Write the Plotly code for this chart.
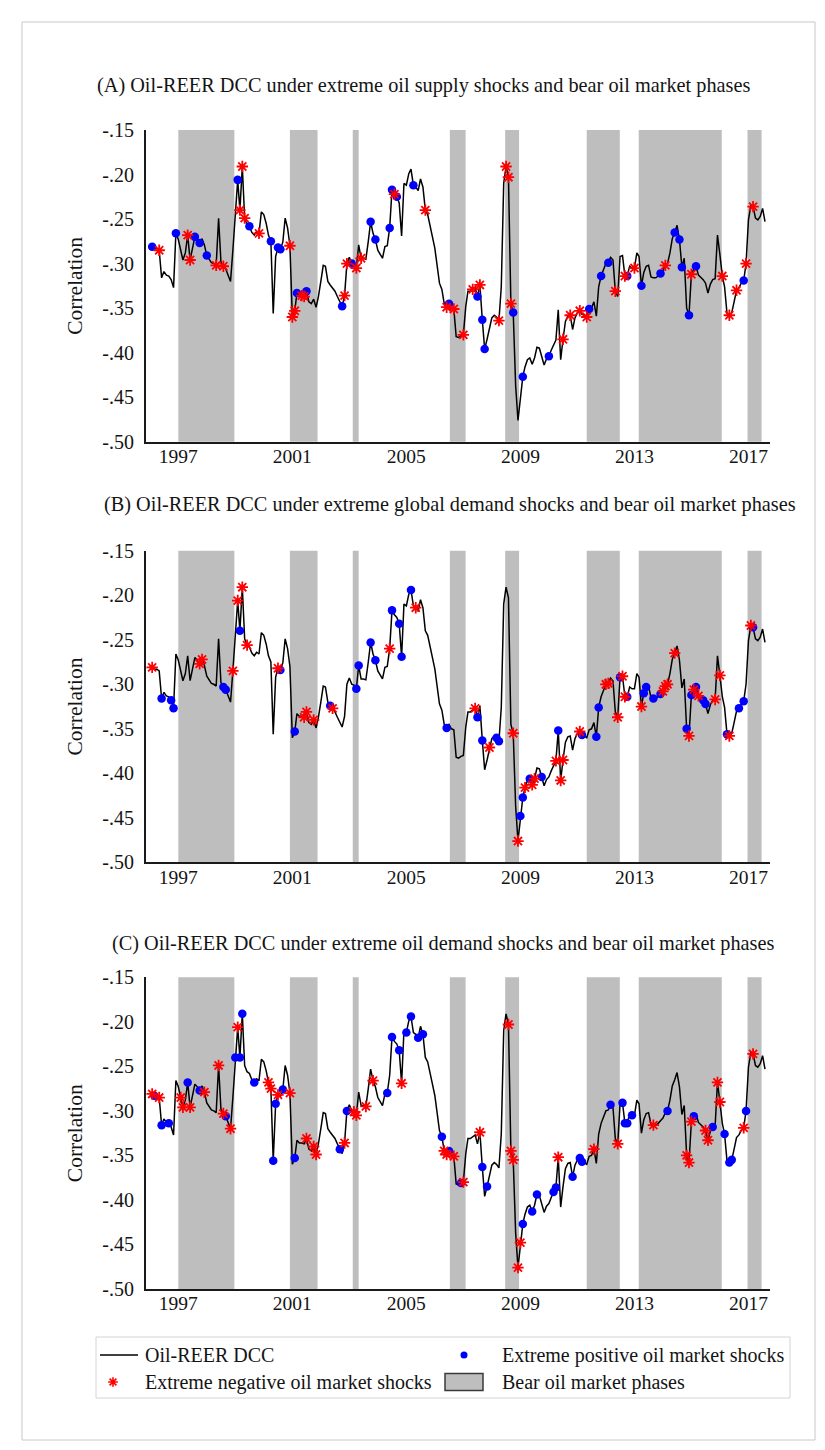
import pandas as pd
import plotly.graph_objects as go

W, H = 825, 1450
FONT = "Liberation Serif"
INK = "#141414"

# Monthly Oil-REER dynamic conditional correlation, 1996m1 onwards
dcc = [
    -0.280, -0.281, -0.283, -0.283, -0.285, -0.316, -0.309, -0.313, -0.314, -0.318, -0.327, -0.266,  # 1996
    -0.273, -0.285, -0.296, -0.288, -0.268, -0.296, -0.281, -0.270, -0.273, -0.277, -0.272, -0.279,  # 1997
    -0.291, -0.296, -0.299, -0.300, -0.302, -0.249, -0.298, -0.303, -0.306, -0.313, -0.320, -0.285,  # 1998
    -0.240, -0.206, -0.240, -0.191, -0.249, -0.256, -0.258, -0.265, -0.268, -0.264, -0.266, -0.242,  # 1999
    -0.245, -0.255, -0.268, -0.275, -0.356, -0.292, -0.282, -0.284, -0.276, -0.249, -0.260, -0.280,  # 2000
    -0.360, -0.353, -0.333, -0.336, -0.336, -0.337, -0.331, -0.343, -0.345, -0.340, -0.349, -0.337,  # 2001
    -0.320, -0.302, -0.303, -0.320, -0.324, -0.327, -0.331, -0.337, -0.343, -0.348, -0.336, -0.300,  # 2002
    -0.293, -0.300, -0.301, -0.305, -0.279, -0.294, -0.294, -0.295, -0.275, -0.253, -0.266, -0.273,  # 2003
    -0.285, -0.290, -0.294, -0.281, -0.280, -0.260, -0.217, -0.222, -0.225, -0.232, -0.269, -0.210,  # 2004
    -0.212, -0.199, -0.194, -0.212, -0.214, -0.218, -0.205, -0.214, -0.240, -0.245, -0.260, -0.270,  # 2005
    -0.283, -0.303, -0.322, -0.329, -0.345, -0.349, -0.345, -0.350, -0.351, -0.382, -0.383, -0.381,  # 2006
    -0.380, -0.348, -0.331, -0.331, -0.329, -0.327, -0.337, -0.324, -0.363, -0.396, -0.385, -0.371,  # 2007
    -0.361, -0.358, -0.360, -0.364, -0.326, -0.210, -0.191, -0.203, -0.345, -0.355, -0.437, -0.476,  # 2008
    -0.448, -0.427, -0.416, -0.408, -0.406, -0.413, -0.406, -0.394, -0.395, -0.404, -0.414, -0.407,  # 2009
    -0.404, -0.397, -0.391, -0.386, -0.352, -0.408, -0.385, -0.365, -0.359, -0.358, -0.374, -0.361,  # 2010
    -0.355, -0.353, -0.357, -0.358, -0.360, -0.351, -0.350, -0.343, -0.359, -0.326, -0.314, -0.307,  # 2011
    -0.300, -0.299, -0.293, -0.296, -0.331, -0.337, -0.292, -0.291, -0.314, -0.314, -0.303, -0.305,  # 2012
    -0.305, -0.288, -0.292, -0.325, -0.310, -0.303, -0.302, -0.315, -0.316, -0.316, -0.314, -0.311,  # 2013
    -0.308, -0.302, -0.300, -0.288, -0.272, -0.265, -0.257, -0.273, -0.304, -0.294, -0.350, -0.358,  # 2014
    -0.312, -0.306, -0.303, -0.313, -0.315, -0.318, -0.322, -0.333, -0.323, -0.318, -0.317, -0.268,  # 2015
    -0.290, -0.314, -0.326, -0.356, -0.358, -0.355, -0.343, -0.330, -0.327, -0.322, -0.319, -0.300,  # 2016
    -0.251, -0.234, -0.236, -0.249, -0.251, -0.247, -0.238, -0.253,                                  # 2017
]

# Bear oil market phases
bear_start = ["1997-01-01", "2000-12-01", "2003-02-14", "2006-07-12",
              "2008-06-20", "2011-05-01", "2013-02-25", "2016-12-20"]
bear_end = ["1998-12-20", "2001-11-20", "2003-05-01", "2007-01-30",
            "2008-12-15", "2012-06-28", "2016-01-25", "2017-06-18"]

# Months with extreme positive / negative shocks, by shock type
supply_pos = ["1996-02", "1996-12", "1997-08", "1997-10", "1998-01", "1999-02", "1999-07",
              "2000-04", "2000-07", "2000-08", "2001-03", "2001-07", "2002-10", "2003-02",
              "2003-10", "2003-12", "2004-06", "2004-07", "2004-09", "2005-04", "2006-07",
              "2007-07", "2007-09", "2007-10", "2008-10", "2009-02", "2010-01", "2011-06",
              "2011-11", "2012-02", "2012-10", "2013-04", "2013-12", "2014-06", "2014-08",
              "2014-09", "2014-12", "2015-03", "2016-11"]
supply_neg = ["1996-05", "1997-05", "1997-06", "1998-05", "1998-08", "1999-03", "1999-04",
              "1999-05", "1999-11", "2000-12", "2001-01", "2001-02", "2001-05", "2001-06",
              "2002-11", "2002-12", "2003-04", "2003-06", "2004-08", "2005-09", "2006-06",
              "2006-09", "2007-01", "2007-05", "2007-08", "2008-04", "2008-07", "2008-08",
              "2008-09", "2010-07", "2010-10", "2011-02", "2011-05", "2012-05", "2012-09",
              "2013-01", "2014-02", "2015-01", "2016-02", "2016-05", "2016-08", "2016-12",
              "2017-03"]

global_pos = ["1996-06", "1996-10", "1996-11", "1998-08", "1998-09", "1999-03", "2000-08",
              "2001-02", "2002-05", "2003-04", "2003-05", "2003-10", "2003-12", "2004-07",
              "2004-10", "2004-11", "2005-03", "2006-06", "2007-07", "2007-09", "2008-03",
              "2008-04", "2009-01", "2009-02", "2009-05", "2009-10", "2010-05", "2011-03",
              "2011-09", "2011-10", "2012-07", "2012-10", "2013-05", "2013-06", "2013-09",
              "2013-12", "2014-11", "2015-01", "2015-03", "2015-06", "2015-07", "2016-04",
              "2016-09", "2016-11", "2017-03"]
global_neg = ["1996-02", "1997-10", "1997-11", "1998-12", "1999-02", "1999-04", "1999-06",
              "2000-07", "2001-06", "2001-07", "2001-10", "2002-06", "2004-06", "2005-05",
              "2007-06", "2007-12", "2008-10", "2008-12", "2009-03", "2009-06", "2009-07",
              "2010-04", "2010-06", "2010-07", "2011-02", "2012-01", "2012-02", "2012-06",
              "2012-08", "2012-09", "2013-04", "2014-01", "2014-02", "2014-03", "2014-06",
              "2014-12", "2015-02", "2015-04", "2015-11", "2016-01", "2016-05", "2017-02"]

oildem_pos = ["1996-03", "1996-06", "1996-09", "1997-05", "1997-10", "1998-09", "1999-01",
              "1999-03", "1999-04", "1999-09", "2000-05", "2000-06", "2000-09", "2001-02",
              "2002-09", "2002-12", "2004-05", "2004-07", "2004-10", "2005-01", "2005-03",
              "2005-06", "2005-08", "2006-04", "2006-07", "2006-12", "2007-09", "2007-11",
              "2009-02", "2009-06", "2009-08", "2010-03", "2010-04", "2010-11", "2011-02",
              "2011-03", "2012-03", "2012-08", "2012-09", "2012-10", "2012-12", "2014-03",
              "2015-02", "2015-10", "2016-03", "2016-05", "2016-06", "2016-12"]
oildem_neg = ["1996-02", "1996-05", "1997-02", "1997-03", "1997-06", "1997-12", "1998-06",
              "1998-08", "1998-11", "1999-02", "2000-03", "2000-04", "2000-07", "2000-12",
              "2001-07", "2001-10", "2001-11", "2002-11", "2003-03", "2003-04", "2003-08",
              "2003-11", "2004-11", "2006-05", "2006-06", "2006-09", "2007-01", "2007-08",
              "2008-08", "2008-09", "2008-10", "2008-12", "2009-01", "2010-05", "2011-08",
              "2012-06", "2013-09", "2014-11", "2014-12", "2015-01", "2015-07", "2015-08",
              "2015-12", "2016-01", "2016-11", "2017-03"]

panel_titles = [
    "(A) Oil-REER DCC under extreme oil supply shocks and bear oil market phases",
    "(B) Oil-REER DCC under extreme global demand shocks and bear oil market phases",
    "(C) Oil-REER DCC under extreme oil demand shocks and bear oil market phases",
]
panel_shocks = [(supply_pos, supply_neg), (global_pos, global_neg), (oildem_pos, oildem_neg)]

y_ticks = [-0.50, -0.45, -0.40, -0.35, -0.30, -0.25, -0.20, -0.15]
y_tick_text = ["-.50", "-.45", "-.40", "-.35", "-.30", "-.25", "-.20", "-.15"]
x_tick_years = ["1997", "2001", "2005", "2009", "2013", "2017"]

legend_labels = ["Oil-REER DCC", "Extreme positive oil market shocks",
                 "Extreme negative oil market shocks", "Bear oil market phases"]

# ---------------------------------------------------------------- layout geometry (pixels)
PLOT_LEFT, PLOT_RIGHT = 146, 770
PANEL_TOPS = [130, 550.7, 977.3]
PANEL_H = 311.7
TITLE_POS = [(95, 85), (102, 505), (110, 943)]

LINE_C = "black"
POS_C = "#0000FF"
NEG_C = "#FF0000"
BEAR_C = "#BEBEBE"

months = pd.date_range("1996-01-01", periods=len(dcc), freq="MS")
series = pd.Series(dcc, index=months)


def px(x):
    return x / W


def py(y):
    return 1 - y / H


fig = go.Figure()
layout = dict(
    width=W, height=H, autosize=False,
    margin=dict(l=0, r=0, t=0, b=0, pad=0, autoexpand=False),
    paper_bgcolor="white", plot_bgcolor="rgba(0,0,0,0)",
    showlegend=False,
    font=dict(family=FONT, color=INK, size=20),
)
shapes = []
annotations = []

for k in range(3):
    sfx = "" if k == 0 else str(k + 1)
    xa, ya = "x" + sfx, "y" + sfx
    top = PANEL_TOPS[k]
    dom_y = [py(top + PANEL_H), py(top)]
    pos, neg = panel_shocks[k]
    pos_d = pd.to_datetime(pos)
    neg_d = pd.to_datetime(neg)

    fig.add_trace(go.Scatter(
        x=months, y=series.values, mode="lines",
        line=dict(color=LINE_C, width=1.5), xaxis=xa, yaxis=ya,
        name=legend_labels[0], hoverinfo="x+y"))
    fig.add_trace(go.Scatter(
        x=pos_d, y=series.loc[pos_d].values, mode="markers",
        marker=dict(symbol="circle", size=8.5, color=POS_C, line=dict(width=0)),
        xaxis=xa, yaxis=ya, name=legend_labels[1]))
    fig.add_trace(go.Scatter(
        x=neg_d, y=series.loc[neg_d].values, mode="markers",
        marker=dict(symbol="asterisk-open", size=9.5, color=NEG_C,
                    line=dict(color=NEG_C, width=1.8)),
        xaxis=xa, yaxis=ya, name=legend_labels[2]))

    for s, e in zip(bear_start, bear_end):
        shapes.append(dict(type="rect", xref=xa, yref=ya + " domain",
                           x0=s, x1=e, y0=0, y1=1, fillcolor=BEAR_C,
                           line=dict(width=0), layer="below"))

    layout["xaxis" + sfx] = dict(
        domain=[px(PLOT_LEFT), px(PLOT_RIGHT)], anchor=ya, type="date",
        range=["1995-11-14", "2017-10-04"], automargin=False,
        tickvals=[y + "-01-01" for y in x_tick_years], ticktext=x_tick_years,
        ticks="", showgrid=False, zeroline=False,
        showline=True, linecolor="#1a1a1a", linewidth=2,
        tickfont=dict(size=19.5), ticklabelstandoff=-4)
    layout["yaxis" + sfx] = dict(
        domain=dom_y, anchor=xa, range=[-0.50, -0.15], automargin=False,
        tickvals=y_ticks, ticktext=y_tick_text,
        ticks="", showgrid=False, zeroline=False,
        showline=True, linecolor="#1a1a1a", linewidth=2,
        tickfont=dict(size=20), ticklabelstandoff=6,
        title=dict(text="Correlation", font=dict(size=21.5), standoff=14))

    tx, ty = TITLE_POS[k]
    annotations.append(dict(xref="paper", yref="paper", x=px(tx), y=py(ty),
                            xanchor="left", yanchor="middle", showarrow=False,
                            text=panel_titles[k], font=dict(size=20.3)))

# ---------------------------------------------------------------- key below the panels
layout["xaxis4"] = dict(domain=[0, 1], range=[0, W], visible=False, fixedrange=True,
                        automargin=False)
layout["yaxis4"] = dict(domain=[0, 1], range=[H, 0], visible=False, fixedrange=True,
                        automargin=False)

ROW1, ROW2 = 1355, 1382
COL1_TXT, COL2_SYM, COL2_TXT = 143, 464, 500

shapes.append(dict(type="rect", xref="x4", yref="y4", x0=96, x1=790, y0=1337, y1=1398,
                   line=dict(color="#d4d4d4", width=1), fillcolor="rgba(0,0,0,0)"))
shapes.append(dict(type="line", xref="x4", yref="y4", x0=100, x1=138, y0=ROW1, y1=ROW1,
                   line=dict(color=LINE_C, width=1.5)))
shapes.append(dict(type="rect", xref="x4", yref="y4", x0=445, x1=483,
                   y0=ROW2 - 8.5, y1=ROW2 + 8.5, fillcolor=BEAR_C,
                   line=dict(color="#3a3a3a", width=1.5)))
fig.add_trace(go.Scatter(x=[COL2_SYM], y=[ROW1], mode="markers", xaxis="x4", yaxis="y4",
                         marker=dict(symbol="circle", size=7, color=POS_C),
                         hoverinfo="skip", name=legend_labels[1]))
fig.add_trace(go.Scatter(x=[113], y=[ROW2], mode="markers", xaxis="x4", yaxis="y4",
                         marker=dict(symbol="asterisk-open", size=8, color=NEG_C,
                                     line=dict(color=NEG_C, width=1.6)),
                         hoverinfo="skip", name=legend_labels[2]))
for text, x, y in [(legend_labels[0], COL1_TXT, ROW1), (legend_labels[1], COL2_TXT, ROW1),
                   (legend_labels[2], COL1_TXT, ROW2), (legend_labels[3], COL2_TXT, ROW2)]:
    annotations.append(dict(xref="x4", yref="y4", x=x, y=y, xanchor="left",
                            yanchor="middle", showarrow=False, text=text,
                            font=dict(size=20)))

# outer frame
shapes.append(dict(type="rect", xref="x4", yref="y4", x0=22, x1=815, y0=22, y1=1440,
                   line=dict(color="#c8c8c8", width=1), fillcolor="rgba(0,0,0,0)"))

layout["shapes"] = shapes
layout["annotations"] = annotations
fig.update_layout(**layout)

fig.write_html("out.html")
